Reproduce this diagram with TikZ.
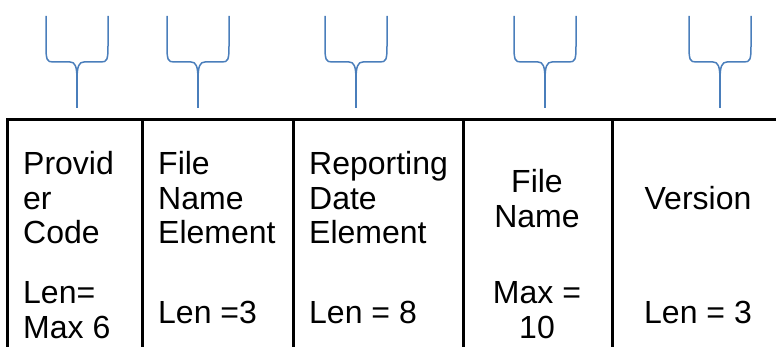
\documentclass[tikz,border=0pt]{standalone}
\usepackage{fontspec}
\setmainfont{Liberation Sans}
\definecolor{bracecol}{RGB}{74,126,187}

\tikzset{
  bracket/.style={draw=bracecol,line width=1.5pt,line join=round},
  rule/.style={line width=3pt},
  celltext/.style={font=\fontsize{32}{35}\selectfont,inner sep=0pt}
}

\begin{document}
\begin{tikzpicture}[x=1pt,y=-1pt]
\useasboundingbox (0,0) rectangle (776,347);

% braces over the fields
\foreach \cx/\nm in {77/tipa,198/tipb,356/tipc,545/tipd,720/tipe}{
  \draw[bracket] (\cx-31,16) -- (\cx-31,46)
    .. controls (\cx-31,60) and (\cx-30,62) .. (\cx-24,62) -- (\cx-7,62)
    .. controls (\cx-2,62) and (\cx,66) .. (\cx,80)
    .. controls (\cx,66) and (\cx+2,62) .. (\cx+7,62) -- (\cx+24,62)
    .. controls (\cx+30,62) and (\cx+31,60) .. (\cx+31,46) -- (\cx+31,16);
  \draw[bracket] (\cx,79) -- (\cx,108) coordinate (\nm);
}

% table rules
\coordinate (tl) at (7,120);
\coordinate (tr) at (776,120);
\draw[rule,line cap=rect] (tl) -- (tr);
\foreach \x in {7,142,293,463,612}
  \draw[rule] (\x,120) -- (\x,347);

% cells (base = baseline of the last line)
\node[celltext,align=left,anchor=base west] (prov) at (23,244) {Provid\\er\\Code};
\node[celltext,align=left,anchor=base west] (provlen) at (23,338) {Len=\\Max 6};

\node[celltext,align=left,anchor=base west] (fne) at (158,244) {File\\Name\\Element};
\node[celltext,anchor=base west] (fnelen) at (158,323) {Len =3};

\node[celltext,align=left,anchor=base west] (rde) at (309,244) {Reporting\\Date\\Element};
\node[celltext,anchor=base west] (rdelen) at (309,323) {Len = 8};

\node[celltext,align=center,anchor=base] (fn) at (537,228) {File\\Name};
\node[celltext,align=center,anchor=base] (fnlen) at (537,338) {Max =\\10};

\node[celltext,anchor=base] (ver) at (698,210) {Version};
\node[celltext,anchor=base] (verlen) at (698,323) {Len = 3};

\end{tikzpicture}
\end{document}
